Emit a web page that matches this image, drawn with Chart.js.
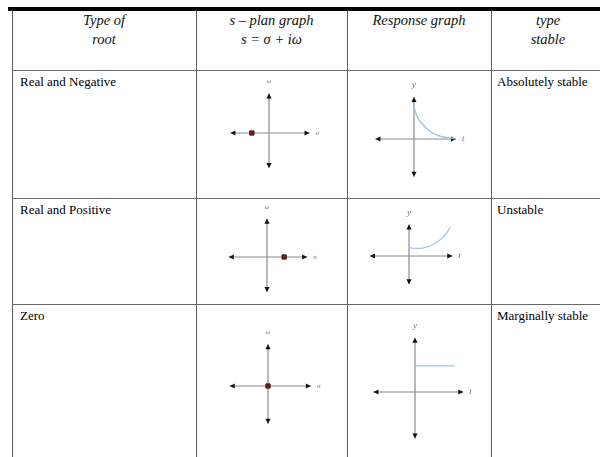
<!DOCTYPE html>
<html>
<head>
<meta charset="utf-8">
<script src="https://cdn.jsdelivr.net/npm/chart.js@4.4.1/dist/chart.umd.min.js"></script>
<style>
body{margin:0;background:#fff;width:600px;height:457px;overflow:hidden;position:relative;font-family:"Liberation Serif",serif;}
.ln{position:absolute;background:#5a5a5a;}
.hd{position:absolute;top:11px;font-style:italic;font-size:14.5px;line-height:19px;text-align:center;color:#111;}
.tx{position:absolute;font-size:13px;line-height:14px;color:#000;}
canvas.g{position:absolute;}
</style>
</head>
<body>
<script>
// table text
const columnHeaders = [['Type of', 'root'], ['s \u2013 plan graph', 's = \u03c3 + i\u03c9'], ['Response graph'], ['type', 'stable']];
const rootTypes = ['Real and Negative', 'Real and Positive', 'Zero'];
const stability = ['Absolutely stable', 'Unstable', 'Marginally stable'];

// s-plane: root position on sigma axis, axis extents [left, right, down, up]
const rootSigma = [-0.44, 0.44, 0];
const sAxes = [[-0.99, 1.04, -0.9, 1.01], [-0.98, 1.03, -0.9, 0.98], [-0.98, 1.1, -0.97, 1.07]];
const sLabels = ['\u03c9', '\u03c3'];

// response graphs (t, y)
const decayT = [0, 0.05, 0.1, 0.19, 0.3, 0.43, 0.55, 0.67, 0.8, 0.98];
const decayY = [0.77, 0.6, 0.48, 0.37, 0.25, 0.15, 0.09, 0.055, 0.03, 0.01];
const growthT = [0, 0.1, 0.25, 0.4, 0.53, 0.65, 0.77, 0.88, 0.98];
const growthY = [0.21, 0.18, 0.18, 0.21, 0.25, 0.32, 0.41, 0.53, 0.68];
const constT = [0, 0.95];
const constY = [0.62, 0.62];
const rAxes = [[-0.92, 1.0, -0.9, 1.0], [-0.93, 1.03, -0.67, 0.75], [-0.99, 1.15, -1.11, 1.29]];
const rLabels = ['y', 't'];

// layout
const colX = [12, 196, 347, 491, 605];
const rowY = [70, 198, 304];
const sOrigins = [[268.7, 133.3], [266.7, 256.7], [267.7, 386]];
const rOrigins = [[413.7, 139], [409.3, 255.7], [415, 391.7]];
const unit = 42;
const half = 70;

function line(x, y, w, h, color) {
    const d = document.createElement('div');
    d.className = 'ln';
    d.style.left = x + 'px'; d.style.top = y + 'px';
    d.style.width = w + 'px'; d.style.height = h + 'px';
    if (color) d.style.background = color;
    document.body.appendChild(d);
}

line(8, 7, 597, 3.5, '#000');
colX.forEach(x => line(x, 10, 1, 447));
rowY.forEach(y => line(colX[0], y, 600 - colX[0], 1.2, '#6a6a6a'));

columnHeaders.forEach((h, i) => {
    const d = document.createElement('div');
    d.className = 'hd';
    d.style.left = colX[i] + 'px';
    d.style.width = (colX[i + 1] - colX[i]) + 'px';
    d.innerHTML = h.join('<br>');
    document.body.appendChild(d);
});

rowY.forEach((y, i) => {
    [[colX[0] + 8, rootTypes[i]], [colX[3] + 6, stability[i]]].forEach(([x, t]) => {
        const d = document.createElement('div');
        d.className = 'tx';
        d.style.left = x + 'px'; d.style.top = (y + 5) + 'px';
        d.textContent = t;
        document.body.appendChild(d);
    });
});

function arrow(ctx, x, y, dx, dy) {
    const len = 5, w = 2.6;
    ctx.beginPath();
    ctx.moveTo(x, y);
    ctx.lineTo(x - dx * len - dy * w, y - dy * len + dx * w);
    ctx.lineTo(x - dx * len + dy * w, y - dy * len - dx * w);
    ctx.closePath();
    ctx.fill();
}

const axesPlugin = {
    id: 'axesPlugin',
    beforeDatasetsDraw(chart, args, opts) {
        const ctx = chart.ctx, xs = chart.scales.x, ys = chart.scales.y;
        const [l, r, b, t] = opts.extent;
        const x0 = xs.getPixelForValue(0), y0 = ys.getPixelForValue(0);
        const xl = xs.getPixelForValue(l), xr = xs.getPixelForValue(r);
        const yb = ys.getPixelForValue(b), yt = ys.getPixelForValue(t);
        ctx.save();
        ctx.strokeStyle = '#8c8c8c';
        ctx.lineWidth = 1.2;
        ctx.beginPath();
        ctx.moveTo(xl, y0); ctx.lineTo(xr, y0);
        ctx.moveTo(x0, yb); ctx.lineTo(x0, yt);
        ctx.stroke();
        ctx.fillStyle = '#111';
        arrow(ctx, xl, y0, -1, 0);
        arrow(ctx, xr, y0, 1, 0);
        arrow(ctx, x0, yt, 0, -1);
        arrow(ctx, x0, yb, 0, 1);
        ctx.fillStyle = '#777';
        ctx.font = 'italic ' + opts.fontSize + 'px "Liberation Serif"';
        ctx.textAlign = 'center';
        ctx.textBaseline = 'middle';
        ctx.fillText(opts.labels[0], x0, yt - 12);
        ctx.textAlign = 'left';
        ctx.fillText(opts.labels[1], xr + 6, y0);
        ctx.restore();
    }
};

function makeChart(origin, extent, labels, fontSize, datasets) {
    const c = document.createElement('canvas');
    c.className = 'g';
    c.width = half * 2; c.height = half * 2;
    c.style.left = (origin[0] - half) + 'px';
    c.style.top = (origin[1] - half) + 'px';
    document.body.appendChild(c);
    const range = half / unit;
    new Chart(c.getContext('2d'), {
        type: 'scatter',
        data: { datasets: datasets },
        options: {
            responsive: false,
            animation: false,
            layout: { padding: 0 },
            scales: {
                x: { type: 'linear', min: -range, max: range, display: false },
                y: { type: 'linear', min: -range, max: range, display: false }
            },
            plugins: {
                legend: { display: false },
                tooltip: { enabled: false },
                axesPlugin: { extent: extent, labels: labels, fontSize: fontSize }
            }
        },
        plugins: [axesPlugin]
    });
}

function pts(xs, ys) { return xs.map((x, i) => ({ x: x, y: ys[i] })); }

rootSigma.forEach((s, i) => {
    makeChart(sOrigins[i], sAxes[i], sLabels, 7, [{
        data: [{ x: s, y: 0 }],
        pointStyle: 'rect',
        pointRadius: 3,
        backgroundColor: '#8b1414',
        borderColor: '#3a1a1a',
        borderWidth: 1
    }]);
});

[[decayT, decayY, '#9fc2e3'], [growthT, growthY, '#a7c8e8'], [constT, constY, '#a6d0d8']].forEach(([t, y, col], i) => {
    makeChart(rOrigins[i], rAxes[i], rLabels, 9, [{
        data: pts(t, y),
        showLine: true,
        borderColor: col,
        borderWidth: 1.3,
        pointRadius: 0,
        cubicInterpolationMode: 'monotone'
    }]);
});
</script>
</body>
</html>
